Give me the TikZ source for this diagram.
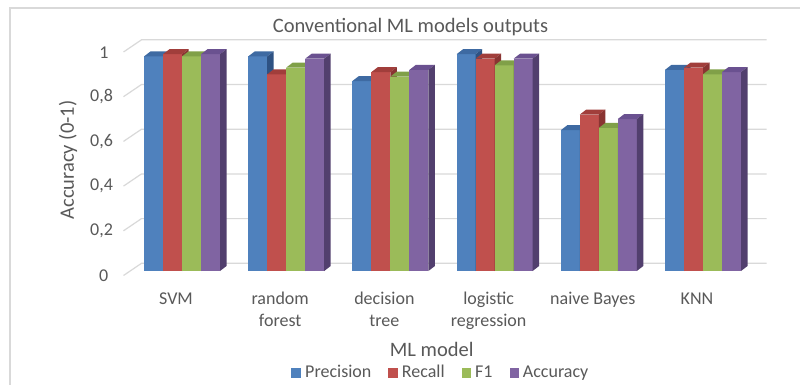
\documentclass[tikz,border=0pt]{standalone}
\usepackage{fontspec}
\setmainfont{Carlito}
\definecolor{txt}{HTML}{595959}
\definecolor{gridc}{HTML}{D9D9D9}
% series colours: front, top and side faces
\definecolor{bluF}{HTML}{4F81BD}\definecolor{bluT}{HTML}{3E6AA2}\definecolor{bluS}{HTML}{2E5283}
\definecolor{redF}{HTML}{C0504D}\definecolor{redT}{HTML}{A13E3B}\definecolor{redS}{HTML}{8A3432}
\definecolor{grnF}{HTML}{9BBB59}\definecolor{grnT}{HTML}{80A048}\definecolor{grnS}{HTML}{6A853A}
\definecolor{purF}{HTML}{8064A2}\definecolor{purT}{HTML}{6A5190}\definecolor{purS}{HTML}{523F6E}
% one 3-D column: #1 left edge, #2 value, #3 colour prefix
\newcommand\colbar[3]{%
  \pgfmathsetmacro\ytop{271-223.5*#2}%
  \fill[#3F] (#1,271) rectangle (#1+19,\ytop);
  \fill[#3T] (#1,\ytop) -- (#1+6.5,\ytop-5) -- (#1+25.5,\ytop-5) -- (#1+19,\ytop) -- cycle;
  \fill[#3S] (#1+19,271) -- (#1+19,\ytop) -- (#1+25.5,\ytop-5) -- (#1+25.5,266) -- cycle;
}
\tikzset{
  lbl/.style={text=txt, font=\fontsize{18}{22}\selectfont, inner sep=0pt},
  ttl/.style={text=txt, font=\fontsize{20.5}{24}\selectfont, inner sep=0pt},
  grid/.style={draw=gridc, line width=1.2pt},
  frame/.style={draw=gridc, line width=1.5pt},
}
\begin{document}
\begin{tikzpicture}[x=1pt,y=-1pt]
\useasboundingbox (0,0) rectangle (800,385);
\fill[white] (0,0) rectangle (800,385);
% chart area border
\draw[frame] (10,385) -- (10,8) -- (800,8);
% title
\node[ttl, anchor=base] (title) at (410.5,32.3) {Conventional ML models outputs};
% gridlines on side and back walls
\foreach \v in {0,0.2,0.4,0.6,0.8,1}{
  \draw[grid] (123.5,275.5-223.5*\v) -- (141.5,263.3-223.5*\v) -- (766.5,263.3-223.5*\v);
}
% value axis labels
\node[lbl] (t0) at (103.7,275.5) {0};
\node[lbl] (t2) at (101.5,230.8) {0,2};
\node[lbl] (t4) at (101.5,186.1) {0,4};
\node[lbl] (t6) at (101.5,141.4) {0,6};
\node[lbl] (t8) at (101.5,96.7) {0,8};
\node[lbl] (t10) at (104,52.5) {1};
\node[ttl, rotate=90] (ytitle) at (68,160) {Accuracy (0-1)};
% columns
\foreach [count=\g from 0] \a/\b/\c/\d in {0.96/0.97/0.96/0.97, 0.96/0.88/0.91/0.95, 0.85/0.89/0.87/0.90, 0.97/0.95/0.92/0.95, 0.63/0.70/0.64/0.68, 0.90/0.91/0.88/0.89}{
  \pgfmathsetmacro\xo{144+104.2*\g}
  \colbar{\xo}{\a}{blu}
  \colbar{\xo+19}{\b}{red}
  \colbar{\xo+38}{\c}{grn}
  \colbar{\xo+57}{\d}{pur}
}
% category labels (two-line labels are anchored at their second baseline)
\node[lbl, anchor=base] (c1) at (176,304) {SVM};
\node[lbl, anchor=base, align=center] (c2) at (280.2,326) {random\\forest};
\node[lbl, anchor=base, align=center] (c3) at (384.4,326) {decision\\tree};
\node[lbl, anchor=base, align=center] (c4) at (488.6,326) {logistic\\regression};
\node[lbl, anchor=base] (c5) at (592.8,304) {naive Bayes};
\node[lbl, anchor=base] (c6) at (697,304) {KNN};
\node[ttl, anchor=base] (xtitle) at (431.7,356) {ML model};
% legend
\fill[bluF] (291,368) rectangle (300.5,377.5);
\node[lbl, anchor=base west] (l1) at (305,377.3) {Precision};
\fill[redF] (388,368) rectangle (397.5,377.5);
\node[lbl, anchor=base west] (l2) at (401.7,377.3) {Recall};
\fill[grnF] (461.5,368) rectangle (471,377.5);
\node[lbl, anchor=base west] (l3) at (475,377.3) {F1};
\fill[purF] (509.5,368) rectangle (519,377.5);
\node[lbl, anchor=base west] (l4) at (522.7,377.3) {Accuracy};
\end{tikzpicture}
\end{document}
